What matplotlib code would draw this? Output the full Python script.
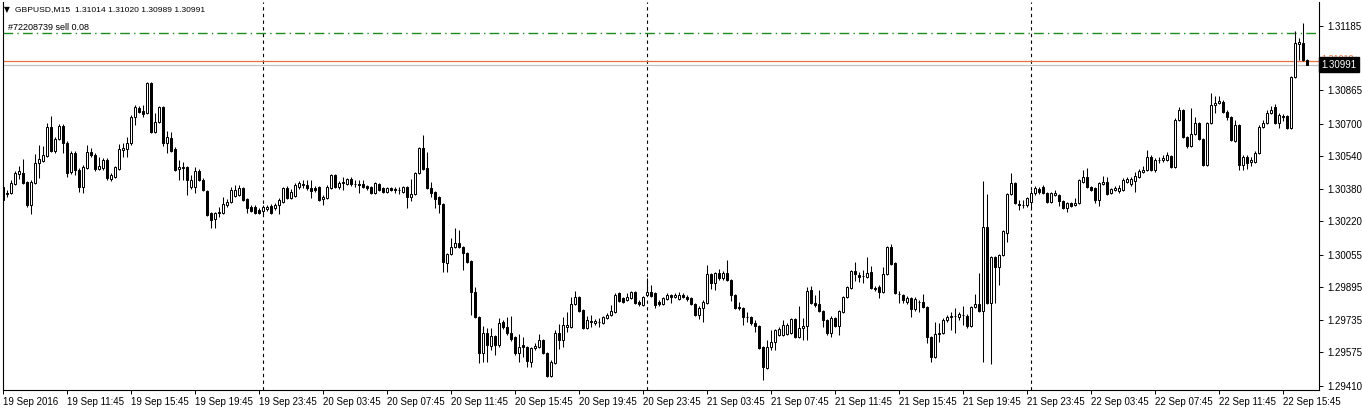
"""
GBPUSD M15 candlestick chart, MetaTrader style.
Saves out.png (1362x412).
"""

import numpy as np
import pandas as pd
import matplotlib
matplotlib.use("Agg")
import matplotlib.pyplot as plt
import matplotlib.transforms as mtransforms

plt.rcParams.update({
    "font.family": ["Liberation Sans", "DejaVu Sans"],
    "font.size": 7,
})

SYMBOL = "GBPUSD,M15"
FIRST_BAR = "2016-09-19 07:45"
ORDER_LABEL = "#72208739 sell 0.08"
ORDER_PRICE = 1.31150
ASK_PRICE = 1.31010

opens = [
    1.30389, 1.30359, 1.30359, 1.30404, 1.30453, 1.30458, 1.30414, 1.30300, 1.30409, 1.30507,
    1.30517, 1.30542, 1.30685, 1.30567, 1.30626, 1.30690, 1.30606, 1.30463, 1.30557, 1.30473,
    1.30389, 1.30483, 1.30562, 1.30547, 1.30478, 1.30483, 1.30522, 1.30429, 1.30438, 1.30478,
    1.30572, 1.30577, 1.30606, 1.30734, 1.30778, 1.30764, 1.30754, 1.30902, 1.30660, 1.30709,
    1.30783, 1.30606, 1.30631, 1.30577, 1.30478, 1.30488, 1.30488, 1.30389, 1.30389, 1.30468,
    1.30424, 1.30369, 1.30261, 1.30231, 1.30261, 1.30261, 1.30300, 1.30315, 1.30344, 1.30349,
    1.30384, 1.30330, 1.30290, 1.30290, 1.30276, 1.30271, 1.30281, 1.30295, 1.30286, 1.30300,
    1.30315, 1.30384, 1.30335, 1.30344, 1.30389, 1.30399, 1.30399, 1.30384, 1.30384, 1.30389,
    1.30330, 1.30335, 1.30384, 1.30448, 1.30389, 1.30409, 1.30404, 1.30429, 1.30404, 1.30404,
    1.30404, 1.30394, 1.30389, 1.30359, 1.30404, 1.30384, 1.30364, 1.30384, 1.30379, 1.30374,
    1.30364, 1.30389, 1.30339, 1.30354, 1.30458, 1.30582, 1.30483, 1.30384, 1.30364, 1.30339,
    1.30305, 1.30014, 1.30059, 1.30094, 1.30113, 1.30094, 1.30064, 1.30024, 1.29871, 1.29748,
    1.29570, 1.29669, 1.29605, 1.29654, 1.29610, 1.29723, 1.29699, 1.29669, 1.29650, 1.29570,
    1.29610, 1.29600, 1.29526, 1.29595, 1.29600, 1.29635, 1.29570, 1.29457, 1.29521, 1.29669,
    1.29635, 1.29699, 1.29699, 1.29813, 1.29847, 1.29783, 1.29694, 1.29723, 1.29718, 1.29723,
    1.29718, 1.29743, 1.29758, 1.29773, 1.29866, 1.29842, 1.29832, 1.29842, 1.29871, 1.29822,
    1.29808, 1.29857, 1.29871, 1.29866, 1.29822, 1.29813, 1.29837, 1.29857, 1.29847, 1.29837,
    1.29857, 1.29847, 1.29842, 1.29813, 1.29758, 1.29793, 1.29817, 1.29960, 1.29916, 1.29965,
    1.29941, 1.29965, 1.29931, 1.29857, 1.29798, 1.29793, 1.29748, 1.29748, 1.29718, 1.29704,
    1.29600, 1.29497, 1.29600, 1.29625, 1.29659, 1.29659, 1.29664, 1.29669, 1.29738, 1.29650,
    1.29694, 1.29704, 1.29881, 1.29817, 1.29813, 1.29778, 1.29733, 1.29669, 1.29743, 1.29704,
    1.29773, 1.29847, 1.29891, 1.29975, 1.29955, 1.29950, 1.29946, 1.29970, 1.29891, 1.29896,
    1.29871, 1.29960, 1.30094, 1.30014, 1.29862, 1.29857, 1.29822, 1.29842, 1.29788, 1.29822,
    1.29822, 1.29798, 1.29650, 1.29551, 1.29664, 1.29669, 1.29733, 1.29748, 1.29753, 1.29748,
    1.29758, 1.29753, 1.29704, 1.29798, 1.29813, 1.29778, 1.30192, 1.29817, 1.30044, 1.29995,
    1.30054, 1.30162, 1.30354, 1.30409, 1.30305, 1.30300, 1.30300, 1.30315, 1.30359, 1.30379,
    1.30389, 1.30359, 1.30315, 1.30349, 1.30349, 1.30320, 1.30286, 1.30310, 1.30300, 1.30310,
    1.30414, 1.30438, 1.30389, 1.30384, 1.30325, 1.30404, 1.30414, 1.30359, 1.30374, 1.30369,
    1.30374, 1.30414, 1.30404, 1.30419, 1.30438, 1.30463, 1.30473, 1.30537, 1.30473, 1.30522,
    1.30522, 1.30522, 1.30542, 1.30488, 1.30719, 1.30769, 1.30636, 1.30591, 1.30650, 1.30704,
    1.30626, 1.30497, 1.30704, 1.30793, 1.30803, 1.30808, 1.30759, 1.30734, 1.30616, 1.30694,
    1.30497, 1.30537, 1.30512, 1.30512, 1.30557, 1.30685, 1.30704, 1.30754, 1.30783, 1.30704,
    1.30739, 1.30739, 1.30680, 1.30931, 1.31094, 1.31099, 1.31014,
]

highs = [
    1.30399, 1.30374, 1.30424, 1.30468, 1.30492, 1.30527, 1.30419, 1.30424, 1.30552, 1.30596,
    1.30591, 1.30704, 1.30739, 1.30636, 1.30699, 1.30699, 1.30616, 1.30567, 1.30567, 1.30483,
    1.30497, 1.30596, 1.30582, 1.30557, 1.30537, 1.30532, 1.30532, 1.30458, 1.30492, 1.30601,
    1.30606, 1.30636, 1.30744, 1.30793, 1.30788, 1.30793, 1.30907, 1.30907, 1.30754, 1.30788,
    1.30788, 1.30665, 1.30660, 1.30587, 1.30522, 1.30512, 1.30492, 1.30448, 1.30488, 1.30478,
    1.30434, 1.30374, 1.30266, 1.30266, 1.30290, 1.30339, 1.30330, 1.30389, 1.30399, 1.30399,
    1.30389, 1.30335, 1.30300, 1.30300, 1.30286, 1.30300, 1.30300, 1.30305, 1.30310, 1.30335,
    1.30389, 1.30394, 1.30379, 1.30409, 1.30419, 1.30424, 1.30424, 1.30424, 1.30394, 1.30394,
    1.30349, 1.30399, 1.30453, 1.30453, 1.30419, 1.30438, 1.30434, 1.30438, 1.30424, 1.30424,
    1.30424, 1.30399, 1.30394, 1.30414, 1.30409, 1.30389, 1.30389, 1.30389, 1.30389, 1.30389,
    1.30394, 1.30394, 1.30429, 1.30463, 1.30587, 1.30646, 1.30562, 1.30414, 1.30369, 1.30344,
    1.30310, 1.30064, 1.30138, 1.30187, 1.30177, 1.30099, 1.30069, 1.30029, 1.29896, 1.29753,
    1.29704, 1.29694, 1.29694, 1.29659, 1.29743, 1.29733, 1.29748, 1.29753, 1.29654, 1.29664,
    1.29650, 1.29605, 1.29600, 1.29620, 1.29664, 1.29640, 1.29575, 1.29536, 1.29684, 1.29714,
    1.29748, 1.29773, 1.29847, 1.29876, 1.29852, 1.29788, 1.29753, 1.29758, 1.29738, 1.29743,
    1.29753, 1.29768, 1.29808, 1.29866, 1.29871, 1.29847, 1.29866, 1.29876, 1.29876, 1.29832,
    1.29852, 1.29941, 1.29906, 1.29871, 1.29832, 1.29847, 1.29866, 1.29862, 1.29866, 1.29871,
    1.29866, 1.29857, 1.29847, 1.29817, 1.29803, 1.29832, 1.30005, 1.29965, 1.29970, 1.29985,
    1.29975, 1.30029, 1.29936, 1.29862, 1.29822, 1.29798, 1.29773, 1.29753, 1.29733, 1.29709,
    1.29605, 1.29635, 1.29684, 1.29689, 1.29699, 1.29733, 1.29718, 1.29743, 1.29743, 1.29803,
    1.29743, 1.29896, 1.29901, 1.29857, 1.29881, 1.29783, 1.29738, 1.29753, 1.29748, 1.29783,
    1.29852, 1.29901, 1.29980, 1.30019, 1.29970, 1.29980, 1.30044, 1.30000, 1.29901, 1.29906,
    1.29995, 1.30099, 1.30108, 1.30019, 1.29876, 1.29862, 1.29852, 1.29847, 1.29847, 1.29832,
    1.29862, 1.29803, 1.29654, 1.29723, 1.29718, 1.29743, 1.29758, 1.29773, 1.29793, 1.29773,
    1.29803, 1.29763, 1.29803, 1.29862, 1.29965, 1.30419, 1.30354, 1.30049, 1.30049, 1.30059,
    1.30177, 1.30359, 1.30458, 1.30414, 1.30325, 1.30325, 1.30339, 1.30374, 1.30394, 1.30389,
    1.30399, 1.30364, 1.30364, 1.30374, 1.30354, 1.30325, 1.30315, 1.30315, 1.30335, 1.30429,
    1.30473, 1.30483, 1.30394, 1.30389, 1.30414, 1.30443, 1.30438, 1.30384, 1.30394, 1.30399,
    1.30434, 1.30438, 1.30438, 1.30463, 1.30478, 1.30492, 1.30572, 1.30547, 1.30532, 1.30537,
    1.30547, 1.30562, 1.30547, 1.30729, 1.30783, 1.30773, 1.30641, 1.30778, 1.30734, 1.30709,
    1.30631, 1.30709, 1.30853, 1.30838, 1.30838, 1.30818, 1.30769, 1.30739, 1.30719, 1.30699,
    1.30547, 1.30547, 1.30537, 1.30567, 1.30694, 1.30719, 1.30769, 1.30788, 1.30798, 1.30754,
    1.30749, 1.30744, 1.30936, 1.31158, 1.31124, 1.31198, 1.31020,
]

lows = [
    1.30310, 1.30339, 1.30354, 1.30399, 1.30429, 1.30404, 1.30290, 1.30256, 1.30404, 1.30434,
    1.30512, 1.30537, 1.30562, 1.30557, 1.30621, 1.30557, 1.30438, 1.30453, 1.30448, 1.30364,
    1.30359, 1.30478, 1.30537, 1.30468, 1.30473, 1.30473, 1.30424, 1.30419, 1.30434, 1.30473,
    1.30537, 1.30537, 1.30596, 1.30694, 1.30754, 1.30734, 1.30749, 1.30655, 1.30655, 1.30704,
    1.30591, 1.30557, 1.30562, 1.30468, 1.30424, 1.30424, 1.30349, 1.30379, 1.30359, 1.30419,
    1.30369, 1.30246, 1.30187, 1.30187, 1.30241, 1.30256, 1.30290, 1.30310, 1.30339, 1.30344,
    1.30320, 1.30261, 1.30266, 1.30256, 1.30256, 1.30251, 1.30271, 1.30256, 1.30276, 1.30256,
    1.30310, 1.30330, 1.30330, 1.30339, 1.30379, 1.30384, 1.30374, 1.30335, 1.30364, 1.30320,
    1.30300, 1.30330, 1.30379, 1.30384, 1.30379, 1.30374, 1.30399, 1.30394, 1.30389, 1.30359,
    1.30384, 1.30374, 1.30354, 1.30354, 1.30369, 1.30359, 1.30359, 1.30369, 1.30359, 1.30354,
    1.30359, 1.30286, 1.30320, 1.30349, 1.30453, 1.30473, 1.30379, 1.30339, 1.30286, 1.30261,
    1.29970, 1.29970, 1.30054, 1.30089, 1.30089, 1.29980, 1.30014, 1.29758, 1.29743, 1.29521,
    1.29526, 1.29526, 1.29585, 1.29560, 1.29600, 1.29689, 1.29659, 1.29630, 1.29560, 1.29526,
    1.29551, 1.29502, 1.29502, 1.29585, 1.29595, 1.29565, 1.29452, 1.29452, 1.29516, 1.29590,
    1.29600, 1.29674, 1.29694, 1.29808, 1.29773, 1.29689, 1.29689, 1.29699, 1.29709, 1.29699,
    1.29714, 1.29738, 1.29753, 1.29768, 1.29822, 1.29817, 1.29827, 1.29837, 1.29813, 1.29803,
    1.29803, 1.29852, 1.29847, 1.29793, 1.29803, 1.29808, 1.29832, 1.29817, 1.29842, 1.29832,
    1.29842, 1.29827, 1.29808, 1.29753, 1.29738, 1.29723, 1.29813, 1.29886, 1.29881, 1.29931,
    1.29931, 1.29926, 1.29827, 1.29788, 1.29783, 1.29709, 1.29723, 1.29709, 1.29674, 1.29590,
    1.29438, 1.29492, 1.29585, 1.29585, 1.29654, 1.29654, 1.29659, 1.29664, 1.29645, 1.29645,
    1.29635, 1.29635, 1.29813, 1.29798, 1.29773, 1.29699, 1.29659, 1.29650, 1.29699, 1.29659,
    1.29768, 1.29842, 1.29886, 1.29926, 1.29921, 1.29916, 1.29941, 1.29886, 1.29876, 1.29842,
    1.29866, 1.29955, 1.30005, 1.29862, 1.29817, 1.29817, 1.29813, 1.29748, 1.29778, 1.29773,
    1.29793, 1.29620, 1.29526, 1.29546, 1.29625, 1.29664, 1.29723, 1.29684, 1.29669, 1.29733,
    1.29709, 1.29694, 1.29699, 1.29793, 1.29773, 1.29526, 1.29813, 1.29516, 1.29817, 1.29906,
    1.30049, 1.30118, 1.30349, 1.30305, 1.30276, 1.30286, 1.30290, 1.30286, 1.30349, 1.30354,
    1.30354, 1.30310, 1.30310, 1.30344, 1.30295, 1.30281, 1.30266, 1.30290, 1.30295, 1.30305,
    1.30409, 1.30384, 1.30369, 1.30310, 1.30295, 1.30399, 1.30349, 1.30354, 1.30369, 1.30359,
    1.30369, 1.30409, 1.30394, 1.30364, 1.30434, 1.30458, 1.30468, 1.30468, 1.30463, 1.30507,
    1.30512, 1.30517, 1.30483, 1.30483, 1.30714, 1.30631, 1.30582, 1.30587, 1.30646, 1.30621,
    1.30492, 1.30492, 1.30699, 1.30754, 1.30798, 1.30754, 1.30719, 1.30616, 1.30611, 1.30473,
    1.30473, 1.30478, 1.30492, 1.30507, 1.30552, 1.30680, 1.30699, 1.30749, 1.30699, 1.30680,
    1.30714, 1.30675, 1.30675, 1.30926, 1.31015, 1.31010, 1.30989,
]

closes = [
    1.30325, 1.30354, 1.30409, 1.30458, 1.30468, 1.30409, 1.30300, 1.30414, 1.30507, 1.30527,
    1.30547, 1.30685, 1.30567, 1.30626, 1.30690, 1.30606, 1.30458, 1.30557, 1.30473, 1.30389,
    1.30488, 1.30562, 1.30547, 1.30478, 1.30492, 1.30522, 1.30434, 1.30448, 1.30488, 1.30577,
    1.30582, 1.30606, 1.30734, 1.30783, 1.30759, 1.30749, 1.30902, 1.30660, 1.30709, 1.30783,
    1.30606, 1.30636, 1.30567, 1.30473, 1.30488, 1.30483, 1.30424, 1.30424, 1.30468, 1.30424,
    1.30374, 1.30251, 1.30226, 1.30261, 1.30266, 1.30305, 1.30315, 1.30374, 1.30374, 1.30384,
    1.30325, 1.30286, 1.30271, 1.30261, 1.30261, 1.30290, 1.30290, 1.30261, 1.30300, 1.30325,
    1.30384, 1.30335, 1.30364, 1.30399, 1.30409, 1.30404, 1.30384, 1.30369, 1.30374, 1.30325,
    1.30339, 1.30389, 1.30448, 1.30389, 1.30409, 1.30414, 1.30429, 1.30404, 1.30403, 1.30399,
    1.30389, 1.30384, 1.30359, 1.30409, 1.30374, 1.30364, 1.30384, 1.30374, 1.30374, 1.30373,
    1.30389, 1.30339, 1.30354, 1.30458, 1.30582, 1.30478, 1.30384, 1.30359, 1.30330, 1.30305,
    1.30019, 1.30059, 1.30094, 1.30113, 1.30094, 1.30064, 1.30019, 1.29871, 1.29748, 1.29570,
    1.29669, 1.29610, 1.29654, 1.29610, 1.29718, 1.29699, 1.29669, 1.29640, 1.29570, 1.29600,
    1.29600, 1.29531, 1.29595, 1.29605, 1.29635, 1.29570, 1.29457, 1.29526, 1.29669, 1.29635,
    1.29709, 1.29709, 1.29813, 1.29847, 1.29778, 1.29694, 1.29733, 1.29728, 1.29728, 1.29722,
    1.29748, 1.29758, 1.29778, 1.29857, 1.29827, 1.29822, 1.29847, 1.29871, 1.29817, 1.29813,
    1.29847, 1.29871, 1.29852, 1.29808, 1.29813, 1.29842, 1.29857, 1.29847, 1.29857, 1.29857,
    1.29847, 1.29837, 1.29813, 1.29758, 1.29793, 1.29822, 1.29960, 1.29916, 1.29965, 1.29941,
    1.29965, 1.29931, 1.29857, 1.29793, 1.29793, 1.29748, 1.29747, 1.29718, 1.29704, 1.29595,
    1.29502, 1.29600, 1.29625, 1.29684, 1.29689, 1.29709, 1.29709, 1.29738, 1.29650, 1.29694,
    1.29704, 1.29876, 1.29817, 1.29808, 1.29778, 1.29733, 1.29669, 1.29743, 1.29704, 1.29778,
    1.29847, 1.29896, 1.29975, 1.29960, 1.29946, 1.29951, 1.29965, 1.29891, 1.29886, 1.29871,
    1.29960, 1.30094, 1.30010, 1.29866, 1.29861, 1.29832, 1.29842, 1.29788, 1.29837, 1.29821,
    1.29798, 1.29650, 1.29551, 1.29664, 1.29669, 1.29733, 1.29748, 1.29753, 1.29752, 1.29763,
    1.29757, 1.29704, 1.29798, 1.29813, 1.29778, 1.30192, 1.29817, 1.30044, 1.29995, 1.30054,
    1.30172, 1.30354, 1.30409, 1.30310, 1.30300, 1.30301, 1.30335, 1.30359, 1.30384, 1.30364,
    1.30359, 1.30315, 1.30359, 1.30359, 1.30320, 1.30286, 1.30310, 1.30295, 1.30310, 1.30424,
    1.30438, 1.30389, 1.30374, 1.30325, 1.30409, 1.30414, 1.30354, 1.30379, 1.30384, 1.30384,
    1.30424, 1.30429, 1.30429, 1.30443, 1.30468, 1.30473, 1.30537, 1.30473, 1.30522, 1.30521,
    1.30532, 1.30547, 1.30488, 1.30719, 1.30769, 1.30636, 1.30591, 1.30650, 1.30704, 1.30626,
    1.30497, 1.30704, 1.30793, 1.30803, 1.30813, 1.30759, 1.30734, 1.30621, 1.30694, 1.30497,
    1.30537, 1.30507, 1.30522, 1.30557, 1.30685, 1.30704, 1.30754, 1.30769, 1.30704, 1.30744,
    1.30734, 1.30680, 1.30931, 1.31099, 1.31104, 1.31015, 1.30991,
]

price_ticks = [1.31185, 1.30865, 1.30700, 1.30540, 1.30380, 1.30220,
               1.30055, 1.29895, 1.29735, 1.29575, 1.29410]

PRICE_MIN = 1.29388
PRICE_MAX = 1.31301

GREEN = "#1E8C1E"
ASK_COLOR = "#E8703A"
BID_COLOR = "#C0C0C0"


def main():
    o = np.array(opens)
    h = np.array(highs)
    l = np.array(lows)
    c = np.array(closes)
    n = len(c)
    x = np.arange(n)
    times = pd.date_range(FIRST_BAR, periods=n, freq="15min")

    fig = plt.figure(figsize=(13.62, 4.12), dpi=100, facecolor="white")
    W, H = 1362, 412
    left, right, top, bottom = 2.5, 1319, 2, 390
    ax = fig.add_axes([left / W, (H - bottom) / H, (right - left) / W, (bottom - top) / H])
    ax.set_facecolor("white")

    # day separators
    for i in np.where((times.hour == 0) & (times.minute == 0))[0]:
        ax.axvline(i, color="black", lw=0.8, ls=(0, (3, 3)), zorder=1)

    # order / ask / bid lines
    ax.axhline(ORDER_PRICE, color=GREEN, lw=1.0, ls=(0, (7, 3, 1, 3)), zorder=1)
    ax.axhline(ASK_PRICE, color=ASK_COLOR, lw=0.9, zorder=1)
    ax.axhline(c[-1], color=BID_COLOR, lw=0.9, zorder=1)

    # candles
    ax.vlines(x, l, h, color="black", lw=0.75, zorder=2)
    bull = c >= o
    body_lo = np.minimum(o, c)
    body_h = np.abs(c - o)
    ax.bar(x[bull], body_h[bull], bottom=body_lo[bull], width=0.55,
           color="white", edgecolor="black", linewidth=0.72, zorder=3)
    ax.bar(x[~bull], body_h[~bull], bottom=body_lo[~bull], width=0.55,
           color="black", edgecolor="black", linewidth=0.72, zorder=3)

    ax.set_xlim((left - 3) / 4, (right - 3) / 4)
    ax.set_ylim(PRICE_MIN, PRICE_MAX)

    # price axis on the right
    ax.yaxis.tick_right()
    ax.set_yticks(price_ticks)
    ax.set_yticklabels([f"{p:.5f}" for p in price_ticks])
    ax.tick_params(axis="y", direction="out", length=3, width=0.7, pad=3,
                   labelsize=7, colors="black")

    # time axis
    tick_idx = np.where((times.hour % 4 == 3) & (times.minute == 45))[0]
    tick_lbl = [times[i].strftime("%d %b %H:%M") for i in tick_idx]
    tick_lbl[0] = times[0].strftime("%d %b %Y")
    ax.set_xticks(tick_idx)
    ax.set_xticklabels(tick_lbl, ha="left")
    ax.tick_params(axis="x", direction="out", length=3, width=0.7, pad=2,
                   labelsize=7, colors="black")

    for s in ax.spines.values():
        s.set_color("black")
        s.set_linewidth(0.8)
    ax.spines["top"].set_visible(False)

    # price labels at the right edge (ask label mostly hidden behind the bid box)
    trans = mtransforms.blended_transform_factory(ax.transAxes, ax.transData)
    ax.text(1.0015, ASK_PRICE + 0.00012, f"{ASK_PRICE:.5f}", transform=trans,
            color=ASK_COLOR, fontsize=6.5, va="center", ha="left",
            clip_on=False, zorder=5)
    ax.text(1.0015, c[-1], f"{c[-1]:.5f}", transform=trans,
            color="white", fontsize=7, va="center", ha="left",
            bbox=dict(boxstyle="square,pad=0.25", fc="black", ec="black"),
            clip_on=False, zorder=6)

    # header texts
    fig.text(4 / W, 1 - 9.5 / H, "\u25bc", fontsize=5.5, va="center", ha="left",
             family="DejaVu Sans")
    fig.text(15 / W, 1 - 9.5 / H,
             f"{SYMBOL}  {o[-1]:.5f} {h[-1]:.5f} {l[-1]:.5f} {c[-1]:.5f}",
             fontsize=6.1, va="center", ha="left")
    fig.text(8 / W, 1 - 27 / H, ORDER_LABEL, fontsize=6.5, va="center", ha="left")

    fig.savefig("out.png", dpi=100, facecolor="white")
    plt.close(fig)


if __name__ == "__main__":
    main()
